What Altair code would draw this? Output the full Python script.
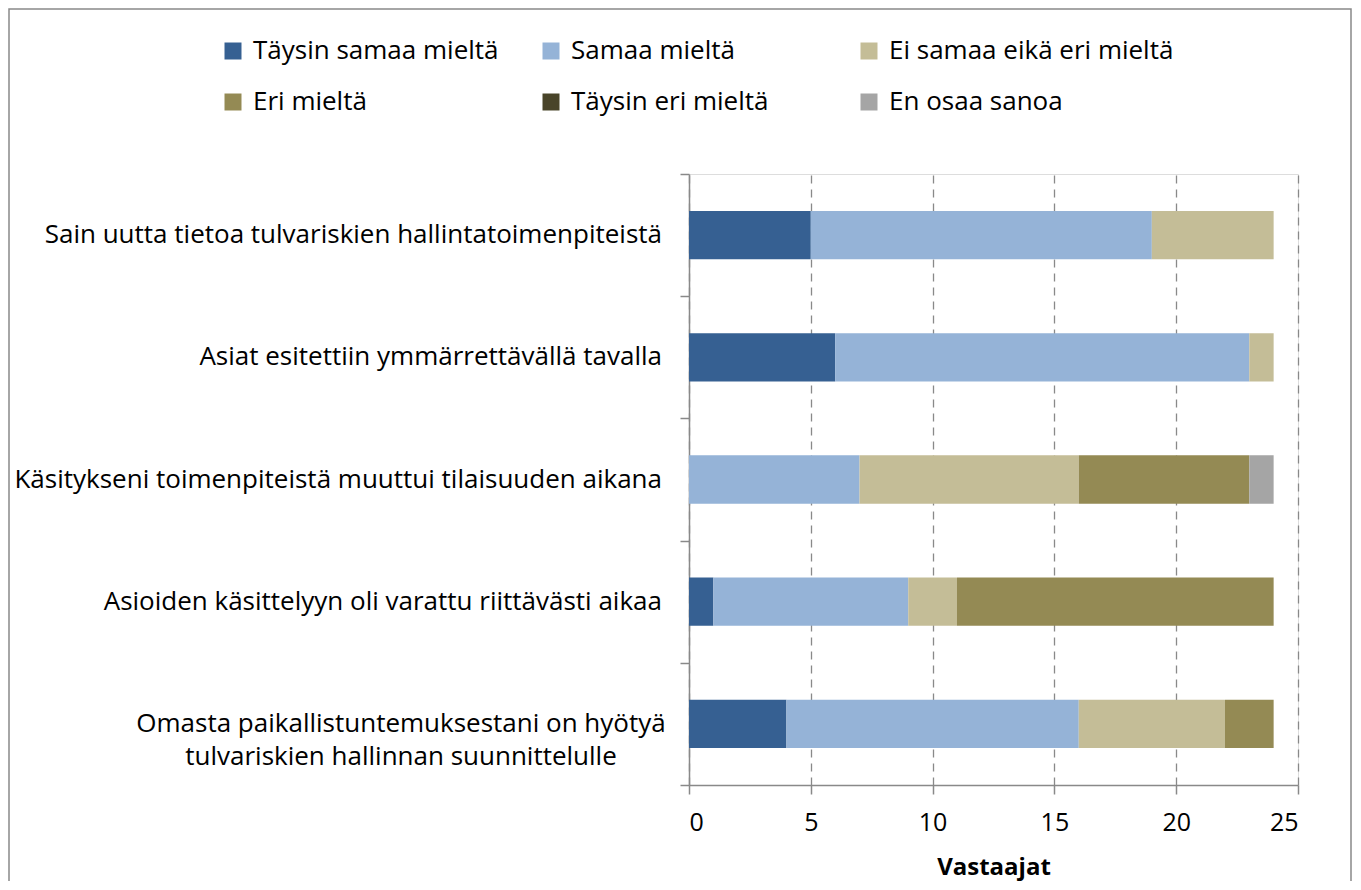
import altair as alt
import pandas as pd

questions = [
    "Sain uutta tietoa tulvariskien hallintatoimenpiteistä",
    "Asiat esitettiin ymmärrettävällä tavalla",
    "Käsitykseni toimenpiteistä muuttui tilaisuuden aikana",
    "Asioiden käsittelyyn oli varattu riittävästi aikaa",
    "Omasta paikallistuntemuksestani on hyötyä\ntulvariskien hallinnan suunnittelulle",
]
responses = [
    "Täysin samaa mieltä",
    "Samaa mieltä",
    "Ei samaa eikä eri mieltä",
    "Eri mieltä",
    "Täysin eri mieltä",
    "En osaa sanoa",
]
colors = ["#366092", "#95B3D7", "#C4BD97", "#948A54", "#494429", "#A5A5A5"]

taysin_samaa = [5, 6, 0, 1, 4]
samaa = [14, 17, 7, 8, 12]
ei_samaa_eika_eri = [5, 1, 9, 2, 6]
eri = [0, 0, 7, 13, 2]
taysin_eri = [0, 0, 0, 0, 0]
en_osaa = [0, 0, 1, 0, 0]
x_ticks = [0, 5, 10, 15, 20, 25]

series = [taysin_samaa, samaa, ei_samaa_eika_eri, eri, taysin_eri, en_osaa]
rows = []
for ri, (resp, vals) in enumerate(zip(responses, series)):
    for q, v in zip(questions, vals):
        rows.append({"q": q, "resp": resp, "order": ri, "value": v})
df = pd.DataFrame(rows)

FONT = "Open Sans"
GRAY = "#898989"
FS = 26

yscale = alt.Scale(domain=questions, paddingInner=0, paddingOuter=0)

bars = alt.Chart(df).mark_bar(height={"band": 0.395}).encode(
    y=alt.Y("q:N", scale=yscale, sort=questions,
            axis=alt.Axis(labels=False, title=None, ticks=True, tickBand="extent",
                          tickSize=9, tickColor=GRAY, tickWidth=1.5, domainColor=GRAY,
                          domainWidth=1.5, grid=False)),
    x=alt.X("value:Q", stack="zero", scale=alt.Scale(domain=[0, 25], nice=False),
            axis=alt.Axis(values=x_ticks, title="Vastaajat", grid=True, gridDash=[8, 6],
                          gridColor=GRAY, gridWidth=1.3, tickColor=GRAY, tickWidth=1.5,
                          domainColor=GRAY, domainWidth=1.5, tickSize=9,
                          labelFontSize=25, labelFont=FONT, labelColor="#000000",
                          labelPadding=16, titleFont=FONT, titleFontSize=24,
                          titleFontWeight="bold", titleColor="#000000", titlePadding=20)),
    color=alt.Color("resp:N", scale=alt.Scale(domain=responses, range=colors),
                    legend=alt.Legend(orient="none", legendX=-469, legendY=-136, columns=3,
                                      direction="horizontal", title=None,
                                      symbolType="square", symbolSize=289,
                                      symbolStrokeWidth=0, labelFont=FONT, labelFontSize=FS,
                                      labelColor="#000000", labelOffset=7, gridAlign="all",
                                      columnPadding=-11, rowPadding=25, labelLimit=400)),
    order=alt.Order("order:Q"),
)

single = [q for q in questions if "\n" not in q]
multi = [q for q in questions if "\n" in q]
lab1 = alt.Chart(pd.DataFrame({"q": single})).mark_text(
    align="right", baseline="middle", font=FONT, fontSize=FS, color="#000000"
).encode(y=alt.Y("q:N", scale=yscale, sort=questions), x=alt.value(-27), text="q:N")
lab2 = alt.Chart(pd.DataFrame({"q": multi})).mark_text(
    align="center", baseline="middle", font=FONT, fontSize=FS, color="#000000",
    lineBreak="\n", lineHeight=33
).encode(y=alt.Y("q:N", scale=yscale, sort=questions), x=alt.value(-288), text="q:N")

frame = alt.Chart(pd.DataFrame({"a": [0]})).mark_rect(
    filled=False, stroke=GRAY, strokeWidth=1.5
).encode(x=alt.value(-680), x2=alt.value(662), y=alt.value(-165), y2=alt.value(740))

chart = alt.layer(frame, bars, lab1, lab2).properties(
    width=609, height=611,
    autosize=alt.AutoSizeParams(type="none"),
    padding={"left": 681, "top": 166, "right": 55, "bottom": 96},
).configure_view(stroke=GRAY, strokeWidth=1.5).configure(background="white")

chart.save("out.html", embed_options={"renderer": "svg", "actions": False})
